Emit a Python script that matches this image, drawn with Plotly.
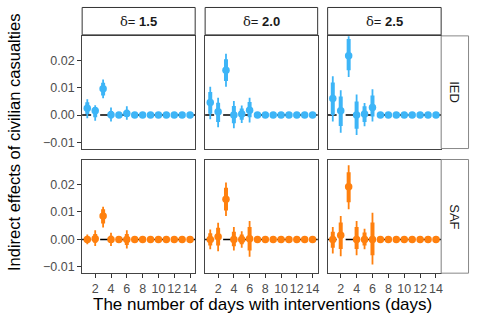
import plotly.graph_objects as go

# days with interventions
days = list(range(1, 15))
deltas = ["1.5", "2.0", "2.5"]
types = ["IED", "SAF"]
colors = {"IED": "#3DB5F7", "SAF": "#FF800E"}

zeros8 = [0.0] * 8
lo8 = [-0.0003] * 8
hi8 = [0.0003] * 8
lot8 = [-0.0002] * 8
hit8 = [0.0002] * 8

# point estimates, 95% (thin) and inner (thick) intervals, per (type, delta)
est = {
    ("IED", "1.5"): [0.0025, 0.0016, 0.0097, 0.0001, 0.0000, 0.0006] + zeros8,
    ("IED", "2.0"): [0.0046, 0.0012, 0.0165, 0.0000, 0.0004, 0.0018] + zeros8,
    ("IED", "2.5"): [0.0061, 0.0016, 0.0218, 0.0000, 0.0004, 0.0028] + zeros8,
    ("SAF", "1.5"): [0.0000, 0.0002, 0.0085, 0.0000, 0.0000, 0.0000] + zeros8,
    ("SAF", "2.0"): [0.0000, 0.0010, 0.0146, 0.0000, 0.0000, 0.0002] + zeros8,
    ("SAF", "2.5"): [0.0000, 0.0015, 0.0192, 0.0000, 0.0000, 0.0000] + zeros8,
}
lo95 = {
    ("IED", "1.5"): [-0.0012, -0.0021, 0.0062, -0.0024, -0.0006, -0.0017] + lo8,
    ("IED", "2.0"): [-0.0015, -0.0045, 0.0104, -0.0048, -0.0029, -0.0027] + lo8,
    ("IED", "2.5"): [-0.0024, -0.0065, 0.0140, -0.0073, -0.0041, -0.0024] + lo8,
    ("SAF", "1.5"): [-0.0018, -0.0024, 0.0043, -0.0024, -0.0005, -0.0033] + lo8,
    ("SAF", "2.0"): [-0.0036, -0.0043, 0.0085, -0.0040, -0.0030, -0.0063] + lo8,
    ("SAF", "2.5"): [-0.0051, -0.0061, 0.0110, -0.0058, -0.0036, -0.0091] + lo8,
}
hi95 = {
    ("IED", "1.5"): [0.0058, 0.0036, 0.0131, 0.0028, 0.0006, 0.0032] + hi8,
    ("IED", "2.0"): [0.0104, 0.0064, 0.0225, 0.0052, 0.0035, 0.0064] + hi8,
    ("IED", "2.5"): [0.0143, 0.0091, 0.0290, 0.0076, 0.0044, 0.0095] + hi8,
    ("SAF", "1.5"): [0.0018, 0.0033, 0.0119, 0.0024, 0.0005, 0.0033] + hi8,
    ("SAF", "2.0"): [0.0036, 0.0061, 0.0207, 0.0045, 0.0030, 0.0067] + hi8,
    ("SAF", "2.5"): [0.0045, 0.0085, 0.0270, 0.0067, 0.0039, 0.0097] + hi8,
}
lo_in = {
    ("IED", "1.5"): [0.0004, -0.0008, 0.0072, -0.0012, -0.0003, -0.0007] + lot8,
    ("IED", "2.0"): [0.0005, -0.0025, 0.0125, -0.0030, -0.0017, -0.0008] + lot8,
    ("IED", "2.5"): [0.0000, -0.0040, 0.0165, -0.0050, -0.0025, -0.0005] + lot8,
    ("SAF", "1.5"): [-0.0010, -0.0012, 0.0058, -0.0013, -0.0003, -0.0020] + lot8,
    ("SAF", "2.0"): [-0.0022, -0.0022, 0.0105, -0.0025, -0.0018, -0.0040] + lot8,
    ("SAF", "2.5"): [-0.0030, -0.0035, 0.0135, -0.0035, -0.0022, -0.0058] + lot8,
}
hi_in = {
    ("IED", "1.5"): [0.0047, 0.0030, 0.0119, 0.0015, 0.0003, 0.0020] + hit8,
    ("IED", "2.0"): [0.0085, 0.0045, 0.0205, 0.0033, 0.0024, 0.0048] + hit8,
    ("IED", "2.5"): [0.0120, 0.0068, 0.0280, 0.0050, 0.0032, 0.0072] + hit8,
    ("SAF", "1.5"): [0.0010, 0.0020, 0.0110, 0.0013, 0.0003, 0.0020] + hit8,
    ("SAF", "2.0"): [0.0022, 0.0042, 0.0188, 0.0028, 0.0018, 0.0045] + hit8,
    ("SAF", "2.5"): [0.0028, 0.0062, 0.0245, 0.0045, 0.0025, 0.0062] + hit8,
}

x_ticks = [2, 4, 6, 8, 10, 12, 14]
y_ticks = [-0.01, 0.0, 0.01, 0.02]

W, H = 479, 327
col_px = [(82.5, 196), (206, 319), (329, 443)]
row_px = [(36, 149), (160, 274)]
FONT = "Liberation Sans, Arial, sans-serif"

fig = go.Figure()
layout = dict(
    width=W, height=H, margin=dict(l=0, r=0, t=0, b=0),
    paper_bgcolor="white", plot_bgcolor="white", showlegend=False,
    font=dict(family=FONT, size=11, color="#4d4d4d"),
)
shapes = []
annotations = []

n = 0
for r, t in enumerate(types):
    for c, d in enumerate(deltas):
        n += 1
        xa = "x" if n == 1 else "x%d" % n
        ya = "y" if n == 1 else "y%d" % n
        key = (t, d)
        e = est[key]
        x0, x1 = col_px[c]
        y0, y1 = row_px[r]
        layout["xaxis" if n == 1 else "xaxis%d" % n] = dict(
            domain=[x0 / W, x1 / W], anchor=ya, range=[0.35, 14.65],
            tickvals=x_ticks, showticklabels=(r == 1), tickangle=0,
            ticks="outside" if r == 1 else "", ticklen=4, tickcolor="#333",
            showline=True, linecolor="#444", linewidth=1, mirror=True,
            showgrid=False, zeroline=False, tickfont=dict(size=12.5, color="#4d4d4d"),
        )
        layout["yaxis" if n == 1 else "yaxis%d" % n] = dict(
            domain=[1 - y1 / H, 1 - y0 / H], anchor=xa, range=[-0.0123, 0.0291],
            tickvals=y_ticks, tickformat=".2f", showticklabels=(c == 0),
            ticks="outside" if c == 0 else "", ticklen=4, tickcolor="#333",
            showline=True, linecolor="#444", linewidth=1, mirror=True,
            showgrid=False, zeroline=False, tickfont=dict(size=12.5, color="#4d4d4d"),
        )
        # dashed zero line
        shapes.append(dict(type="line", xref="%s domain" % xa, yref=ya, x0=0, x1=1,
                           y0=0, y1=0, layer="below",
                           line=dict(color="black", width=1.5, dash="dash")))
        # thin interval
        fig.add_trace(go.Scatter(
            x=days, y=e, mode="markers", xaxis=xa, yaxis=ya,
            marker=dict(size=0.1, color=colors[t]),
            error_y=dict(type="data", symmetric=False,
                         array=[h - v for h, v in zip(hi95[key], e)],
                         arrayminus=[v - l for l, v in zip(lo95[key], e)],
                         thickness=1.8, width=0, color=colors[t]),
            hoverinfo="skip"))
        # thick interval + point
        fig.add_trace(go.Scatter(
            x=days, y=e, mode="markers", xaxis=xa, yaxis=ya,
            marker=dict(size=7.5, color=colors[t]),
            error_y=dict(type="data", symmetric=False,
                         array=[h - v for h, v in zip(hi_in[key], e)],
                         arrayminus=[v - l for l, v in zip(lo_in[key], e)],
                         thickness=4, width=0, color=colors[t])))

# top strips
for c, d in enumerate(deltas):
    x0, x1 = col_px[c]
    shapes.append(dict(type="rect", xref="paper", yref="paper",
                       x0=x0 / W, x1=x1 / W, y0=1 - 35 / H, y1=1 - 7.5 / H,
                       line=dict(color="#333333", width=1), fillcolor="white"))
    annotations.append(dict(
        xref="paper", yref="paper", x=(x0 + x1) / 2 / W, y=1 - 21.5 / H,
        xanchor="center", yanchor="middle",
        text="<span style='font-family:DejaVu Serif;font-weight:normal'>δ</span>"
             "<span style='font-weight:normal'>= </span><b>%s</b>" % d,
        showarrow=False, font=dict(size=13, color="#1a1a1a")))

# right strips
for r, t in enumerate(types):
    y0, y1 = row_px[r]
    shapes.append(dict(type="rect", xref="paper", yref="paper",
                       x0=443 / W, x1=470.5 / W, y0=1 - y1 / H, y1=1 - y0 / H,
                       line=dict(color="#888888", width=1), fillcolor="white"))
    annotations.append(dict(
        xref="paper", yref="paper", x=457 / W, y=1 - (y0 + y1) / 2 / H,
        xanchor="center", yanchor="middle",
        text=t, textangle=90, showarrow=False,
        font=dict(size=13, color="#1a1a1a")))

annotations.append(dict(
    xref="paper", yref="paper", x=264 / W, y=1 - 305 / H,
    xanchor="center", yanchor="middle",
    text="The number of days with interventions (days)", showarrow=False,
    font=dict(size=17, color="black")))
annotations.append(dict(
    xref="paper", yref="paper", x=14 / W, y=1 - 142.5 / H,
    xanchor="center", yanchor="middle",
    text="Indirect effects of civilian casualties", textangle=-90, showarrow=False,
    font=dict(size=16.5, color="black")))

layout["shapes"] = shapes
layout["annotations"] = annotations
fig.update_layout(**layout)

# page body has a default margin; drop it so the figure sits at the window corner
fig.write_html("out.html", config={"displayModeBar": False},
               post_script="document.body.style.margin='0';")
